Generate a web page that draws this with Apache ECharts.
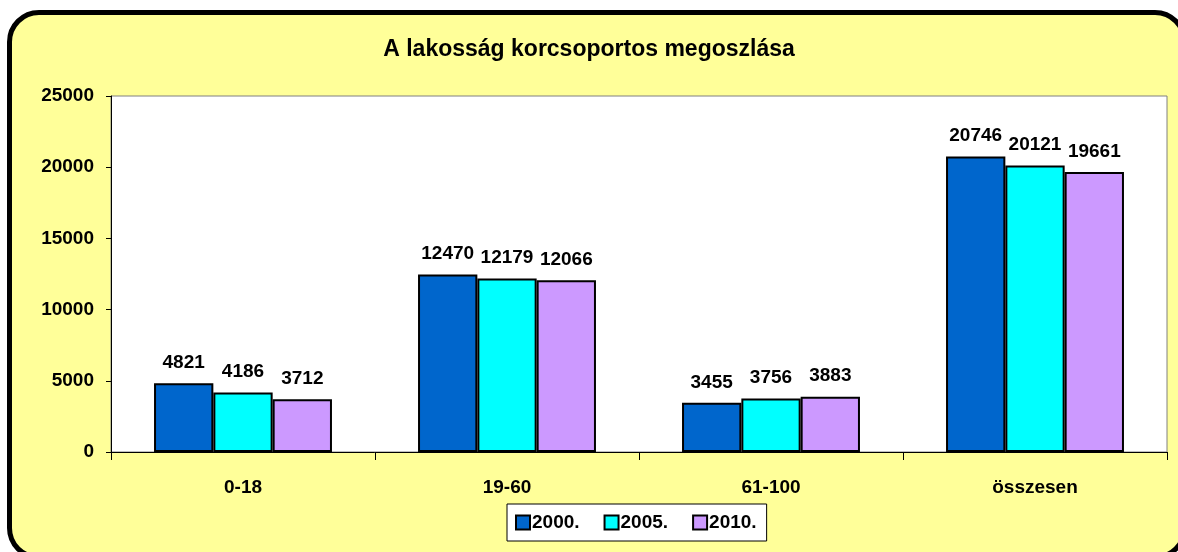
<!DOCTYPE html>
<html lang="hu">
<head>
<meta charset="UTF-8">
<title>A lakosság korcsoportos megoszlása</title>
<script src="https://cdn.jsdelivr.net/npm/echarts@6/dist/echarts.min.js"></script>
<style>
    html,body{margin:0;padding:0;background:#fff;overflow:hidden;}
    #frame{position:absolute;left:7px;top:10px;width:1180px;height:550px;box-sizing:border-box;
        border:5px solid #000;border-radius:32px;background:#FFFF99;overflow:hidden;}
    #main{position:absolute;left:0;top:0;width:1178px;height:552px;}
</style>
</head>
<body>
<div id="frame"></div>
<div id="main"></div>
<script>
var categories = ['0-18', '19-60', '61-100', 'összesen'];
var seriesNames = ['2000.', '2005.', '2010.'];
var values2000 = [4821, 12470, 3455, 20746];
var values2005 = [4186, 12179, 3756, 20121];
var values2010 = [3712, 12066, 3883, 19661];
var colors = ['#0066CC', '#00FFFF', '#CC99FF'];

var chart = echarts.init(document.getElementById('main'));
var font = 'Arial, "Liberation Sans", sans-serif';

function bar(name, data, color) {
    return {
        name: name,
        type: 'bar',
        data: data,
        barGap: '0%',
        barCategoryGap: '32.6%',
        itemStyle: {color: color, borderColor: '#000', borderWidth: 2},
        label: {
            show: true, position: 'top', distance: 11,
            color: '#000', fontWeight: 'bold', fontSize: 19, fontFamily: font
        }
    };
}

chart.setOption({
    backgroundColor: 'transparent',
    animation: false,
    title: {
        text: 'A lakosság korcsoportos megoszlása',
        left: 'center', top: 33,
        textStyle: {fontSize: 23, fontWeight: 'bold', color: '#000', fontFamily: font}
    },
    grid: {left: 111, right: 11, top: 96, bottom: 100, show: true, borderColor: '#808080', borderWidth: 1, backgroundColor: '#fff'},
    legend: {
        top: 504, left: 507,
        data: seriesNames,
        icon: 'rect', itemWidth: 14, itemHeight: 14, itemGap: 24,
        backgroundColor: '#fff', borderColor: '#000', borderWidth: 1,
        padding: [9, 10, 9, 8],
        textStyle: {fontSize: 19, fontWeight: 'bold', color: '#000', fontFamily: font, padding: [0, 0, 0, -3]}
    },
    xAxis: {
        type: 'category',
        data: categories,
        axisLine: {lineStyle: {color: '#000', width: 1}},
        axisTick: {show: true, length: 8, lineStyle: {color: '#000'}},
        axisLabel: {color: '#000', fontWeight: 'bold', fontSize: 19, fontFamily: font, margin: 26}
    },
    yAxis: {
        type: 'value',
        min: 0, max: 25000, interval: 5000,
        axisLine: {show: true, lineStyle: {color: '#000', width: 1}},
        axisTick: {show: true, length: 5, lineStyle: {color: '#000'}},
        splitLine: {show: false},
        axisLabel: {color: '#000', fontWeight: 'bold', fontSize: 19, fontFamily: font, margin: 17,
            formatter: function (v) { return String(v); }}
    },
    series: [
        bar(seriesNames[0], values2000, colors[0]),
        bar(seriesNames[1], values2005, colors[1]),
        bar(seriesNames[2], values2010, colors[2])
    ]
});
</script>
</body>
</html>
